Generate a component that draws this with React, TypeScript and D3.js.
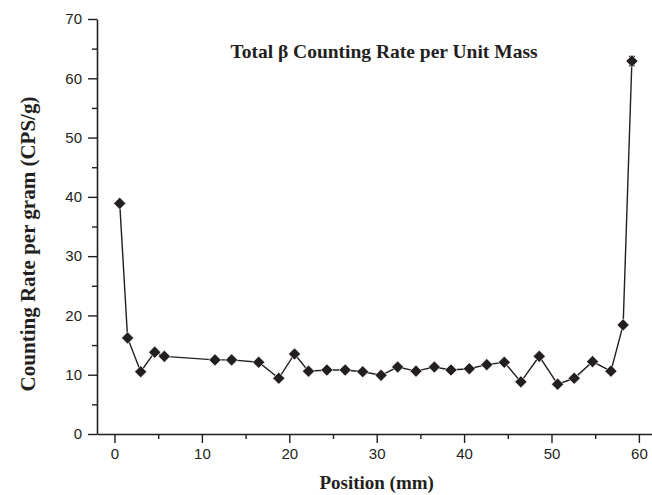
import React, { useEffect, useRef } from 'react';
import * as d3 from 'd3';

// Position (mm) and counting rate (CPS/g)
const positions = [0.6, 1.5, 3.0, 4.6, 5.7, 11.5, 13.4, 16.5, 18.8, 20.6, 22.2, 24.3, 26.4, 28.4, 30.5, 32.4, 34.5, 36.6, 38.5, 40.6, 42.6, 44.6, 46.5, 48.6, 50.7, 52.6, 54.7, 56.8, 58.2, 59.2];
const rates = [38.9, 16.2, 10.5, 13.8, 13.1, 12.5, 12.5, 12.1, 9.4, 13.5, 10.6, 10.8, 10.8, 10.5, 9.9, 11.3, 10.6, 11.3, 10.8, 11.0, 11.7, 12.1, 8.8, 13.1, 8.4, 9.4, 12.2, 10.6, 18.4, 62.9];
const errors = [0.4, 0.3, 0.3, 0.3, 0.3, 0.3, 0.3, 0.3, 0.3, 0.3, 0.3, 0.3, 0.3, 0.3, 0.3, 0.3, 0.3, 0.3, 0.3, 0.3, 0.3, 0.3, 0.3, 0.3, 0.3, 0.3, 0.3, 0.3, 0.4, 0.8];

const xTicks = [0, 10, 20, 30, 40, 50, 60];
const yTicks = [0, 10, 20, 30, 40, 50, 60, 70];

const title = 'Total \u03b2 Counting Rate per Unit Mass';
const xLabel = 'Position (mm)';
const yLabel = 'Counting Rate per gram (CPS/g)';

const App = () => {
  const svgRef = useRef(null);
  const width = 652;
  const height = 495;

  useEffect(() => {
    const svg = d3.select(svgRef.current);
    svg.selectAll('*').remove();

    const ink = '#231f20';
    const left = 97;
    const bottom = 434;

    const x = d3.scaleLinear().domain([-2, 62]).range([left, left + 64 * 8.74]);
    const y = d3.scaleLinear().domain([0, 70]).range([bottom, 19]);

    const data = positions.map((p, i) => ({ p, r: rates[i], e: errors[i] }));

    // x axis (major + minor ticks)
    const gx = svg.append('g').attr('transform', `translate(0,${bottom})`);
    gx.call(d3.axisBottom(x).tickValues(xTicks).tickSize(9).tickSizeOuter(0).tickPadding(5).tickFormat(d3.format('d')));
    gx.append('g').call(d3.axisBottom(x).tickValues(d3.range(5, 60, 10)).tickSize(5).tickSizeOuter(0).tickFormat(() => ''))
      .select('.domain').remove();

    // y axis (major + minor ticks)
    const gy = svg.append('g').attr('transform', `translate(${left},0)`);
    gy.call(d3.axisLeft(y).tickValues(yTicks).tickSize(9).tickSizeOuter(0).tickPadding(6).tickFormat(d3.format('d')));
    gy.append('g').call(d3.axisLeft(y).tickValues(d3.range(5, 70, 10)).tickSize(5).tickSizeOuter(0).tickFormat(() => ''))
      .select('.domain').remove();

    svg.selectAll('.domain').attr('stroke', ink).attr('stroke-width', 1.6);
    svg.selectAll('.tick line').attr('stroke', ink).attr('stroke-width', 1.4);
    svg.selectAll('.tick text')
      .attr('fill', ink)
      .style('font-family', '"Liberation Sans", Arial, sans-serif')
      .style('font-size', '15px');

    // connecting line
    svg.append('path')
      .datum(data)
      .attr('fill', 'none')
      .attr('stroke', ink)
      .attr('stroke-width', 1.4)
      .attr('d', d3.line().x(d => x(d.p)).y(d => y(d.r)));

    // error bars
    const eb = svg.append('g').attr('stroke', ink).attr('stroke-width', 1.2);
    data.forEach(d => {
      eb.append('line').attr('x1', x(d.p)).attr('x2', x(d.p)).attr('y1', y(d.r - d.e)).attr('y2', y(d.r + d.e));
      eb.append('line').attr('x1', x(d.p) - 3).attr('x2', x(d.p) + 3).attr('y1', y(d.r + d.e)).attr('y2', y(d.r + d.e));
      eb.append('line').attr('x1', x(d.p) - 3).attr('x2', x(d.p) + 3).attr('y1', y(d.r - d.e)).attr('y2', y(d.r - d.e));
    });

    // diamond markers
    const diamond = d3.symbol().type(d3.symbolSquare).size(74);
    svg.selectAll('.pt')
      .data(data)
      .enter().append('path')
      .attr('class', 'pt')
      .attr('d', diamond)
      .attr('transform', d => `translate(${x(d.p)},${y(d.r)}) rotate(45)`)
      .attr('fill', ink)
      .attr('stroke', '#fff')
      .attr('stroke-width', 0.6);

    const serif = '"Liberation Serif", "Times New Roman", serif';

    svg.append('text')
      .attr('x', 384).attr('y', 58)
      .attr('text-anchor', 'middle')
      .style('font-family', serif).style('font-weight', 'bold').style('font-size', '19.5px')
      .attr('fill', ink)
      .text(title);

    svg.append('text')
      .attr('x', x(30)).attr('y', 489)
      .attr('text-anchor', 'middle')
      .style('font-family', serif).style('font-weight', 'bold').style('font-size', '19px')
      .attr('fill', ink)
      .text(xLabel);

    svg.append('text')
      .attr('transform', `translate(35,244) rotate(-90)`)
      .attr('text-anchor', 'middle')
      .style('font-family', serif).style('font-weight', 'bold').style('font-size', '21px')
      .attr('fill', ink)
      .text(yLabel);
  }, []);

  return (
    <svg
      ref={svgRef}
      width={width}
      height={height}
      style={{ position: 'absolute', left: 0, top: 0, background: '#fff' }}
    />
  );
};

export default App;
